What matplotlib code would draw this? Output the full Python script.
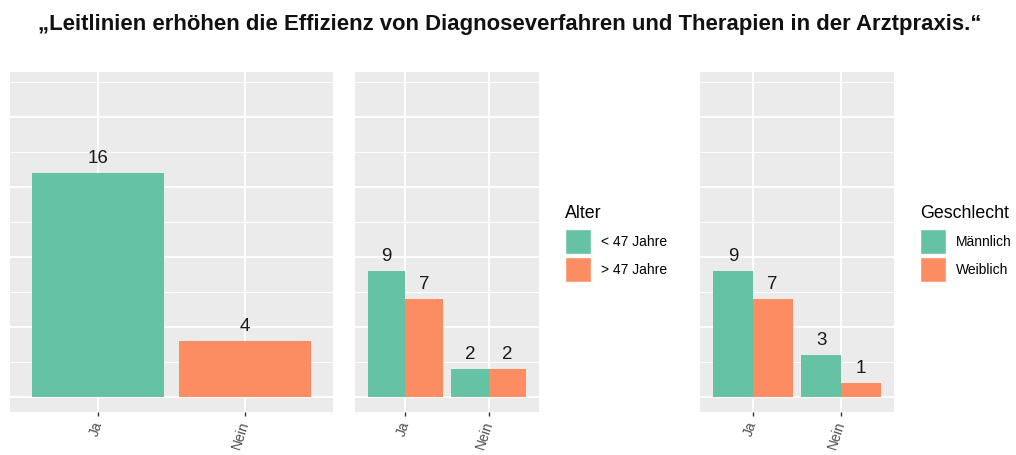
import matplotlib.pyplot as plt
from matplotlib.patches import Patch
import numpy as np

plt.rcParams['font.family'] = ['Liberation Sans', 'DejaVu Sans']

# Daten
categories = ['Ja', 'Nein']
gesamt = [16, 4]
alter_labels = ['< 47 Jahre', '> 47 Jahre']
alter_jung = [9, 2]
alter_alt = [7, 2]
geschlecht_labels = ['Männlich', 'Weiblich']
maennlich = [9, 3]
weiblich = [7, 1]

title = '„Leitlinien erhöhen die Effizienz von Diagnoseverfahren und Therapien in der Arztpraxis.“'

green = '#66C2A5'
orange = '#FC8D62'
W, H = 1016, 455

fig = plt.figure(figsize=(W / 100, H / 100), dpi=100)


def panel(x0, x1):
    # Position in Pixeln -> Figure-Koordinaten
    ax = fig.add_axes([x0 / W, (H - 412) / H, (x1 - x0) / W, (412 - 72) / H])
    ax.set_facecolor('#EBEBEB')
    for s in ax.spines.values():
        s.set_visible(False)
    ax.set_xlim(0.4, 2.6)
    ax.set_ylim(-1.1, 23.2)
    ax.set_yticks(np.arange(0, 21, 5))
    ax.set_yticks(np.arange(2.5, 23, 5), minor=True)
    ax.grid(True, which='major', color='white', lw=1.3)
    ax.grid(True, which='minor', axis='y', color='white', lw=0.7)
    ax.set_axisbelow(True)
    ax.tick_params(axis='y', which='both', left=False, labelleft=False)
    ax.set_xticks([1, 2])
    ax.set_xticklabels(categories, rotation=72, ha='right', va='center',
                       rotation_mode='anchor', fontsize=10, color='#4D4D4D')
    ax.tick_params(axis='x', length=3, width=1, color='#333333', pad=4)
    return ax


def labels(ax, bars):
    ax.bar_label(bars, padding=4, fontsize=13.5, color='#1A1A1A')


x = np.arange(1, len(categories) + 1)

# Panel 1: Gesamt
ax1 = panel(10, 333)
b = ax1.bar(x, gesamt, width=0.9, color=[green, orange])
labels(ax1, b)

# Panel 2: Alter
ax2 = panel(355, 539)
b1 = ax2.bar(x - 0.225, alter_jung, width=0.45, color=green)
b2 = ax2.bar(x + 0.225, alter_alt, width=0.45, color=orange)
labels(ax2, b1)
labels(ax2, b2)

# Panel 3: Geschlecht
ax3 = panel(700, 894)
b1 = ax3.bar(x - 0.225, maennlich, width=0.45, color=green)
b2 = ax3.bar(x + 0.225, weiblich, width=0.45, color=orange)
labels(ax3, b1)
labels(ax3, b2)


def legend(title_txt, names, px, py):
    # Legendentitel separat, damit der Abstand zu den Feldern stimmt
    fig.text(px / W, 1 - (py - 11) / H, title_txt, ha='left', va='baseline',
             fontsize=12.8, color='black')
    handles = [Patch(facecolor=green, edgecolor='white'),
               Patch(facecolor=orange, edgecolor='white')]
    lg = fig.legend(handles, names, loc='upper left',
                    bbox_to_anchor=(px / W, 1 - py / H), frameon=False,
                    fontsize=10, handlelength=1.87,
                    handleheight=2.39, labelspacing=0.22, handletextpad=0.7,
                    borderpad=0, borderaxespad=0)
    return lg


legend('Alter', alter_labels, 565, 229)
legend('Geschlecht', geschlecht_labels, 920, 229)

fig.text(0.502, 1 - 30 / H, title, ha='center', va='baseline',
         fontsize=15.9, fontweight='bold', color='#111111')

fig.savefig('out.png', dpi=100)
